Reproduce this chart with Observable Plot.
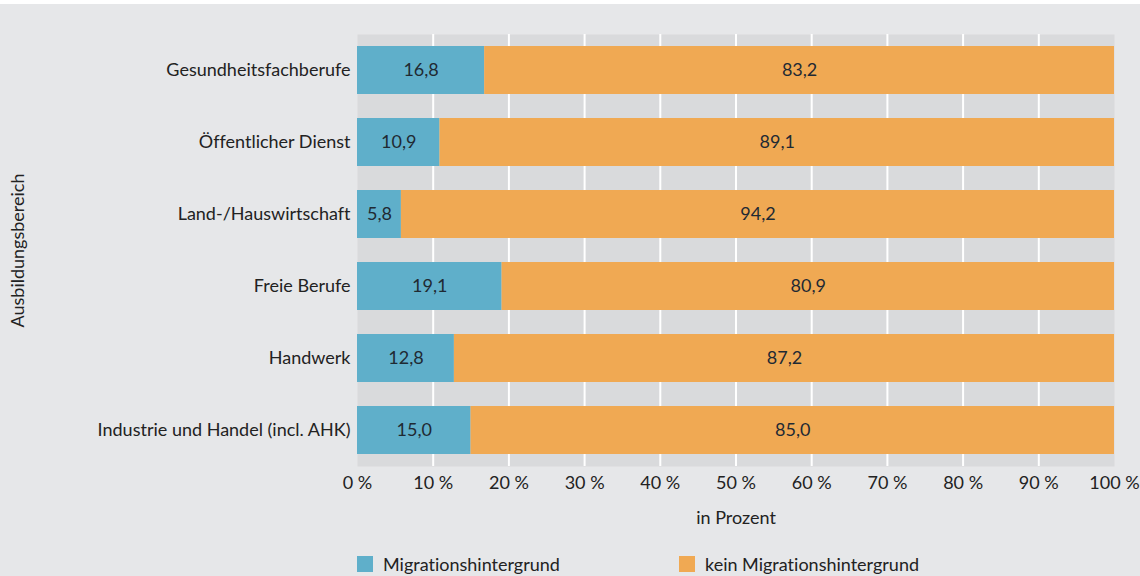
<!DOCTYPE html>
<html>
<head>
<meta charset="utf-8">
<script src="https://cdn.jsdelivr.net/npm/d3@7"></script>
<script src="https://cdn.jsdelivr.net/npm/@observablehq/plot@0.6"></script>
<style>
  html, body { margin: 0; padding: 0; background: #ffffff; }
  #wrap { margin-top: 4px; width: 1140px; height: 572px; background: #e6e7e9; overflow: hidden; position: relative; font-family: Lato, sans-serif; color: #222; font-variant-ligatures: none; }
  svg text { font-variant-ligatures: none; }
  #legend { position: relative; height: 40px; }
  .item { position: absolute; top: 16px; display: flex; align-items: center; font-size: 18px; line-height: 16px; }
  .sw { width: 16px; height: 16px; margin-right: 10px; }
</style>
</head>
<body>
<div id="wrap"><div id="chart"></div><div id="legend"></div></div>
<script>
const categories = [
  "Gesundheitsfachberufe",
  "Öffentlicher Dienst",
  "Land-/Hauswirtschaft",
  "Freie Berufe",
  "Handwerk",
  "Industrie und Handel (incl. AHK)"
];
const seriesNames = ["Migrationshintergrund", "kein Migrationshintergrund"];
const migration = [16.8, 10.9, 5.8, 19.1, 12.8, 15.0];
const noMigration = [83.2, 89.1, 94.2, 80.9, 87.2, 85.0];
const xTicks = [0, 10, 20, 30, 40, 50, 60, 70, 80, 90, 100];
const colors = ["#5fafca", "#f0a953"];

const data = [];
categories.forEach((c, i) => {
  data.push({cat: c, series: seriesNames[0], value: migration[i]});
  data.push({cat: c, series: seriesNames[1], value: noMigration[i]});
});
const fmt = v => d3.format(".1f")(v).replace(".", ",");

const chart = Plot.plot({
  width: 1140,
  height: 536,
  marginLeft: 357,
  marginRight: 26,
  marginTop: 30,
  marginBottom: 74,
  style: {background: "transparent", fontFamily: "Lato, sans-serif", fontSize: "18px", color: "#222"},
  x: {domain: [0, 100], ticks: xTicks},
  y: {domain: categories, paddingInner: 0.333, paddingOuter: 0.166},
  color: {domain: seriesNames, range: colors},
  marks: [
    Plot.frame({fill: "#d9dadc", stroke: null}),
    Plot.ruleX(xTicks.slice(1, -1), {stroke: "#ffffff", strokeWidth: 2}),
    Plot.barX(data, Plot.stackX({x: "value", y: "cat", fill: "series", order: seriesNames})),
    Plot.text(data, Plot.stackX({x: "value", y: "cat", z: "series", text: d => fmt(d.value), order: seriesNames, fill: "#1f2a33", fontSize: 18})),
    Plot.axisX({ticks: xTicks, tickSize: 0, tickPadding: 10, tickFormat: d => d + " %", fontSize: 18, fill: "#222", label: null}),
    Plot.axisY({tickSize: 0, tickPadding: 7, fontSize: 18, fill: "#222", label: null}),
    Plot.text(["in Prozent"], {frameAnchor: "bottom", dy: 57, text: d => d, fontSize: 18, fill: "#222"}),
    Plot.text(["Ausbildungsbereich"], {frameAnchor: "left", textAnchor: "middle", dx: -339, rotate: -90, text: d => d, fontSize: 18, fill: "#222"})
  ]
});
document.getElementById("chart").appendChild(chart);

const legend = document.getElementById("legend");
const lefts = [357, 679];
seriesNames.forEach((s, i) => {
  const it = document.createElement("div");
  it.className = "item";
  it.style.left = lefts[i] + "px";
  it.innerHTML = `<span class="sw" style="background:${colors[i]}"></span><span>${s}</span>`;
  legend.appendChild(it);
});
</script>
</body>
</html>
